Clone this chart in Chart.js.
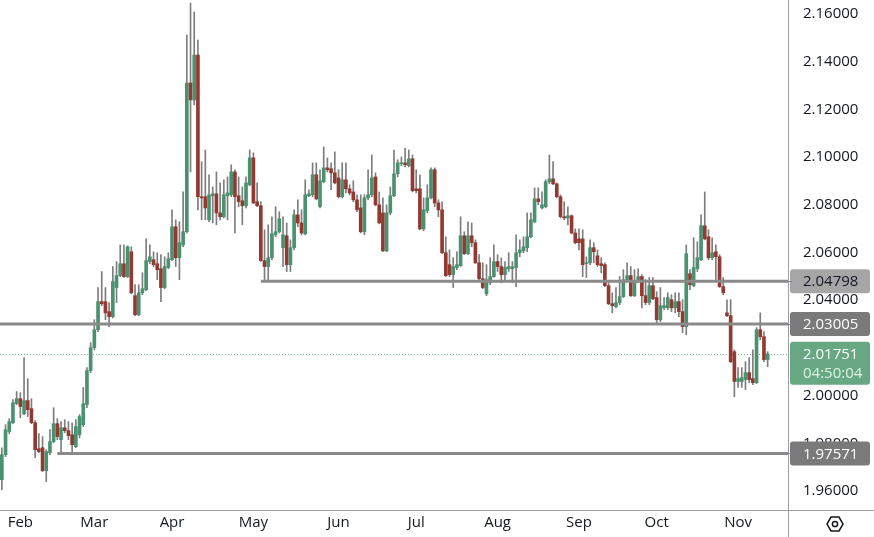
<!DOCTYPE html>
<html>
<head>
<meta charset="utf-8">
<script src="https://cdn.jsdelivr.net/npm/chart.js@4"></script>
<style>
  html, body { margin: 0; padding: 0; background: #fff; }
  canvas { display: block; }
</style>
</head>
<body>
<canvas id="myChart" width="874" height="537"></canvas>
<script>
// daily candles
const opens = [
  1.9647,1.9752,1.9849,1.9886,1.9966,1.9987,1.9924,1.9979,1.9945,1.9886,
  1.9777,1.9781,1.9685,1.9760,1.9807,1.9882,1.9815,1.9865,1.9853,1.9836,
  1.9786,1.9836,1.9878,1.9962,2.0105,2.0201,2.0276,2.0394,2.0394,2.0352,
  2.0331,2.0453,2.0503,2.0553,2.0499,2.0603,2.0419,2.0339,2.0431,2.0444,
  2.0562,2.0570,2.0553,2.0532,2.0453,2.0537,2.0570,2.0708,2.0578,2.0632,
  2.0687,2.1311,2.1240,2.1428,2.0834,2.0834,2.0737,2.0838,2.0846,2.0766,
  2.0750,2.0838,2.0842,2.0938,2.0838,2.0817,2.0796,2.0884,2.0997,2.0813,
  2.0796,2.0566,2.0541,2.0578,2.0674,2.0687,2.0620,2.0670,2.0549,2.0620,
  2.0758,2.0724,2.0678,2.0838,2.0842,2.0926,2.0792,2.0897,2.0955,2.0951,
  2.0934,2.0913,2.0834,2.0905,2.0867,2.0854,2.0821,2.0787,2.0687,2.0829,
  2.0842,2.0917,2.0800,2.0766,2.0607,2.0766,2.0838,2.0930,2.0972,2.0976,
  2.0964,2.0993,2.0867,2.0867,2.0699,2.0775,2.0829,2.0947,2.0808,2.0779,
  2.0599,2.0549,2.0507,2.0537,2.0545,2.0670,2.0595,2.0670,2.0641,2.0557,
  2.0490,2.0427,2.0473,2.0499,2.0562,2.0541,2.0507,2.0532,2.0532,2.0537,
  2.0599,2.0607,2.0620,2.0666,2.0729,2.0825,2.0787,2.0792,2.0897,2.0909,
  2.0888,2.0834,2.0750,2.0745,2.0754,2.0682,2.0657,2.0657,2.0553,2.0557,
  2.0620,2.0586,2.0553,2.0549,2.0461,2.0385,2.0373,2.0390,2.0415,2.0486,
  2.0503,2.0419,2.0478,2.0499,2.0419,2.0390,2.0461,2.0411,2.0318,2.0368,
  2.0368,2.0402,2.0368,2.0394,2.0352,2.0289,2.0511,2.0461,2.0532,2.0570,
  2.0712,2.0666,2.0578,2.0603,2.0582,2.0457,2.0347,2.0335,2.0184,2.0059,
  2.0059,2.0067,2.0096,2.0071,2.0054,2.0276,2.0247,2.0151
];
const highs = [
  1.9781,1.9878,1.9903,1.9983,2.0017,2.0012,2.0159,2.0071,1.9987,1.9895,
  1.9840,1.9828,1.9773,1.9857,1.9949,1.9903,1.9891,1.9899,1.9891,1.9886,
  1.9899,1.9920,2.0034,2.0117,2.0222,2.0318,2.0453,2.0520,2.0453,2.0390,
  2.0541,2.0562,2.0632,2.0632,2.0628,2.0624,2.0465,2.0465,2.0515,2.0657,
  2.0632,2.0603,2.0599,2.0591,2.0582,2.0599,2.0779,2.0737,2.0729,2.0854,
  2.1512,2.1646,2.1609,2.1491,2.0981,2.1030,2.0926,2.0875,2.0938,2.0892,
  2.0905,2.0917,2.0968,2.0947,2.0917,2.0875,2.0917,2.1030,2.1018,2.0892,
  2.0813,2.0695,2.0716,2.0750,2.0792,2.0771,2.0750,2.0724,2.0653,2.0779,
  2.0821,2.0779,2.0905,2.0863,2.0976,2.0976,2.0947,2.1043,2.0997,2.0976,
  2.1022,2.0947,2.0976,2.0976,2.0884,2.0901,2.0842,2.0842,2.0842,2.0947,
  2.1009,2.0934,2.0854,2.0829,2.0800,2.0875,2.1030,2.0989,2.1001,2.1038,
  2.1030,2.1009,2.0947,2.0926,2.0829,2.0884,2.0955,2.0955,2.0821,2.0813,
  2.0666,2.0611,2.0578,2.0603,2.0750,2.0687,2.0729,2.0724,2.0653,2.0591,
  2.0557,2.0549,2.0578,2.0632,2.0591,2.0578,2.0562,2.0599,2.0562,2.0674,
  2.0653,2.0666,2.0766,2.0766,2.0871,2.0871,2.0854,2.0905,2.1009,2.0981,
  2.0892,2.0842,2.0813,2.0792,2.0758,2.0699,2.0699,2.0695,2.0582,2.0653,
  2.0641,2.0611,2.0578,2.0557,2.0473,2.0431,2.0453,2.0499,2.0528,2.0557,
  2.0541,2.0528,2.0532,2.0507,2.0486,2.0495,2.0495,2.0436,2.0453,2.0411,
  2.0431,2.0423,2.0431,2.0431,2.0402,2.0632,2.0528,2.0662,2.0645,2.0758,
  2.0854,2.0695,2.0662,2.0632,2.0591,2.0495,2.0402,2.0402,2.0192,2.0117,
  2.0117,2.0142,2.0159,2.0192,2.0285,2.0347,2.0268,2.0184
];
const lows = [
  1.9605,1.9744,1.9840,1.9882,1.9962,1.9907,1.9920,1.9912,1.9882,1.9739,
  1.9760,1.9681,1.9639,1.9752,1.9802,1.9815,1.9760,1.9844,1.9815,1.9752,
  1.9781,1.9823,1.9870,1.9949,2.0096,2.0192,2.0268,2.0377,2.0318,2.0289,
  2.0326,2.0390,2.0499,2.0495,2.0495,2.0427,2.0335,2.0335,2.0423,2.0440,
  2.0553,2.0541,2.0486,2.0394,2.0448,2.0532,2.0566,2.0541,2.0486,2.0624,
  2.0682,2.0938,2.1219,2.0779,2.0737,2.0737,2.0729,2.0724,2.0716,2.0737,
  2.0745,2.0737,2.0834,2.0682,2.0792,2.0716,2.0787,2.0880,2.0804,2.0792,
  2.0562,2.0486,2.0486,2.0570,2.0666,2.0682,2.0541,2.0520,2.0520,2.0611,
  2.0708,2.0674,2.0674,2.0834,2.0834,2.0821,2.0787,2.0892,2.0938,2.0863,
  2.0888,2.0829,2.0829,2.0850,2.0842,2.0813,2.0771,2.0682,2.0674,2.0821,
  2.0834,2.0796,2.0720,2.0603,2.0603,2.0758,2.0834,2.0917,2.0964,2.0959,
  2.0959,2.0854,2.0850,2.0695,2.0691,2.0766,2.0825,2.0792,2.0750,2.0595,
  2.0499,2.0499,2.0453,2.0528,2.0541,2.0591,2.0591,2.0624,2.0553,2.0486,
  2.0448,2.0419,2.0465,2.0495,2.0520,2.0473,2.0486,2.0520,2.0473,2.0457,
  2.0582,2.0599,2.0603,2.0662,2.0724,2.0800,2.0783,2.0787,2.0888,2.0884,
  2.0829,2.0745,2.0737,2.0716,2.0678,2.0636,2.0611,2.0499,2.0495,2.0549,
  2.0557,2.0541,2.0515,2.0457,2.0381,2.0347,2.0368,2.0381,2.0411,2.0478,
  2.0415,2.0415,2.0473,2.0368,2.0381,2.0381,2.0402,2.0305,2.0310,2.0360,
  2.0360,2.0352,2.0347,2.0331,2.0264,2.0255,2.0444,2.0457,2.0520,2.0566,
  2.0653,2.0570,2.0570,2.0486,2.0453,2.0423,2.0331,2.0138,1.9995,2.0034,
  2.0034,2.0025,2.0054,2.0046,2.0050,2.0234,2.0142,2.0121
];
const closes = [
  1.9752,1.9857,1.9891,1.9970,1.9987,1.9954,1.9979,1.9941,1.9886,1.9773,
  1.9765,1.9685,1.9765,1.9807,1.9882,1.9828,1.9865,1.9853,1.9832,1.9794,
  1.9870,1.9912,1.9966,2.0105,2.0201,2.0276,2.0394,2.0385,2.0347,2.0331,
  2.0478,2.0503,2.0553,2.0499,2.0624,2.0431,2.0339,2.0431,2.0448,2.0566,
  2.0582,2.0549,2.0528,2.0453,2.0541,2.0574,2.0708,2.0578,2.0641,2.0687,
  2.1311,2.1240,2.1428,2.0834,2.0829,2.0787,2.0842,2.0846,2.0766,2.0750,
  2.0842,2.0850,2.0938,2.0834,2.0813,2.0796,2.0892,2.0997,2.0808,2.0796,
  2.0566,2.0541,2.0578,2.0678,2.0687,2.0741,2.0674,2.0549,2.0620,2.0758,
  2.0724,2.0682,2.0842,2.0846,2.0926,2.0825,2.0901,2.0955,2.0947,2.0934,
  2.0892,2.0834,2.0905,2.0867,2.0850,2.0821,2.0779,2.0687,2.0829,2.0842,
  2.0913,2.0800,2.0724,2.0607,2.0766,2.0838,2.0930,2.0976,2.0976,2.0968,
  2.0993,2.0859,2.0859,2.0699,2.0779,2.0829,2.0947,2.0808,2.0779,2.0599,
  2.0503,2.0507,2.0541,2.0549,2.0670,2.0595,2.0670,2.0641,2.0557,2.0490,
  2.0453,2.0486,2.0499,2.0562,2.0541,2.0507,2.0537,2.0541,2.0541,2.0599,
  2.0611,2.0624,2.0666,2.0737,2.0825,2.0813,2.0800,2.0897,2.0909,2.0888,
  2.0834,2.0750,2.0745,2.0754,2.0682,2.0641,2.0641,2.0549,2.0557,2.0620,
  2.0603,2.0549,2.0545,2.0461,2.0385,2.0377,2.0390,2.0415,2.0486,2.0503,
  2.0419,2.0478,2.0499,2.0419,2.0390,2.0461,2.0406,2.0318,2.0377,2.0377,
  2.0411,2.0368,2.0394,2.0352,2.0289,2.0595,2.0465,2.0537,2.0578,2.0712,
  2.0657,2.0578,2.0599,2.0582,2.0457,2.0431,2.0335,2.0142,2.0059,2.0071,
  2.0075,2.0096,2.0067,2.0054,2.0276,2.0247,2.0151,2.0175
];

// x axis: one slot per trading day, a few empty ones on the right
const slots = 213;
const monthNames = ["Feb", "Mar", "Apr", "May", "Jun", "Jul", "Aug", "Sep", "Oct", "Nov"];
const monthStarts = [5, 25, 46, 68, 91, 112, 134, 156, 177, 199];

const yTicks = [1.96, 1.98, 2.00, 2.02, 2.04, 2.06, 2.08, 2.10, 2.12, 2.14, 2.16];

// horizontal levels and where they start (candle index)
const levels = [2.04798, 2.03005, 1.97571];
const levelStarts = [70, 0, 15];
const lastPrice = 2.01751;
const countdown = "04:50:04";

const UP = "#4a9170";
const DOWN = "#923a32";
const FONT = "'Open Sans', sans-serif";
const FSIZE = 15;

const labels = [];
for (let i = 0; i < slots; i++) labels.push(String(i));

const noPad = (s) => {
  s.paddingTop = 0;
  s.paddingBottom = 0;
  s.paddingLeft = 0;
  s.paddingRight = 0;
};

const tvOverlay = {
  id: "tvOverlay",
  beforeDatasetsDraw(chart) {
    const { ctx, chartArea, scales } = chart;
    const y = Math.round(scales.y.getPixelForValue(lastPrice)) + 0.5;
    ctx.save();
    ctx.strokeStyle = "rgba(74,145,112,0.75)";
    ctx.lineWidth = 1;
    ctx.setLineDash([1, 2]);
    ctx.beginPath();
    ctx.moveTo(chartArea.left, y);
    ctx.lineTo(chartArea.right, y);
    ctx.stroke();
    ctx.restore();
  },
  afterDatasetsDraw(chart) {
    const { ctx, chartArea, scales } = chart;
    ctx.save();
    ctx.strokeStyle = "#8a8a8a";
    ctx.lineWidth = 3;
    levels.forEach((v, i) => {
      const y = scales.y.getPixelForValue(v);
      const x0 = levelStarts[i] === 0 ? chartArea.left : scales.x.getPixelForValue(levelStarts[i]);
      ctx.beginPath();
      ctx.moveTo(x0, y);
      ctx.lineTo(chartArea.right, y);
      ctx.stroke();
    });
    ctx.restore();
  },
  afterDraw(chart) {
    const { ctx, chartArea, scales, width, height } = chart;
    const right = chartArea.right;
    ctx.save();
    // pane borders
    ctx.strokeStyle = "#9b9ea6";
    ctx.lineWidth = 1;
    ctx.beginPath();
    ctx.moveTo(right + 0.5, 0);
    ctx.lineTo(right + 0.5, height);
    ctx.moveTo(0, chartArea.bottom + 0.5);
    ctx.lineTo(width, chartArea.bottom + 0.5);
    ctx.stroke();

    ctx.font = FSIZE + "px " + FONT;
    ctx.textBaseline = "middle";
    ctx.textAlign = "left";

    const box = (y, h, fill) => {
      ctx.fillStyle = fill;
      ctx.beginPath();
      ctx.roundRect(right + 2, y, 80, h, 3);
      ctx.fill();
    };

    const boxFill = ["#a6a6a6", "#7a7a7a", "#7a7a7a"];
    const boxText = ["#131722", "#ffffff", "#ffffff"];
    levels.forEach((v, i) => {
      const y = scales.y.getPixelForValue(v);
      box(y - 12, 24, boxFill[i]);
      ctx.fillStyle = boxText[i];
      ctx.fillText(v.toFixed(5), right + 15, y + 1);
      ctx.fillStyle = "#8a8a8a";
      ctx.fillRect(right, Math.round(y), 4, 1);
    });

    const yl = scales.y.getPixelForValue(lastPrice);
    box(yl - 12, 43, "#67a883");
    ctx.fillStyle = "#ffffff";
    ctx.fillText(lastPrice.toFixed(5), right + 15, yl + 1);
    ctx.fillStyle = "#dcf3e5";
    ctx.fillText(countdown, right + 15, yl + 20);

    // settings icon
    const cx = 835, cy = 524, r = 8;
    ctx.strokeStyle = "#131722";
    ctx.lineWidth = 1.5;
    ctx.beginPath();
    for (let k = 0; k < 6; k++) {
      const a = Math.PI / 3 * k;
      const px = cx + r * Math.cos(a), py = cy + r * Math.sin(a);
      if (k === 0) ctx.moveTo(px, py); else ctx.lineTo(px, py);
    }
    ctx.closePath();
    ctx.stroke();
    ctx.beginPath();
    ctx.arc(cx, cy, 2.6, 0, Math.PI * 2);
    ctx.stroke();
    ctx.restore();
  }
};

const ctx = document.getElementById("myChart");

new Chart(ctx, {
  type: "bar",
  data: {
    labels: labels,
    datasets: [
      {
        label: "body",
        data: opens.map((o, i) => [o, closes[i]]),
        backgroundColor: opens.map((o, i) => (closes[i] >= o ? UP : DOWN)),
        borderWidth: 0,
        barThickness: 3,
        minBarLength: 1,
        grouped: false,
        order: 0,
      },
      {
        label: "wick",
        data: lows.map((l, i) => [l, highs[i]]),
        backgroundColor: "#7d7d7d",
        borderWidth: 0,
        barThickness: 1,
        grouped: false,
        order: 1,
      },
    ],
  },
  options: {
    responsive: false,
    animation: false,
    devicePixelRatio: 1,
    layout: { padding: 0 },
    plugins: {
      legend: { display: false },
      tooltip: { enabled: false },
    },
    scales: {
      x: {
        offset: true,
        grid: { display: false, drawTicks: false },
        border: { display: false },
        ticks: {
          autoSkip: false,
          maxRotation: 0,
          minRotation: 0,
          padding: 4,
          color: "#131722",
          font: { family: FONT, size: FSIZE },
          callback: (v, i) => {
            const k = monthStarts.indexOf(i);
            return k >= 0 ? monthNames[k] : null;
          },
        },
        afterFit: (s) => { s.height = 27; noPad(s); },
      },
      y: {
        position: "right",
        min: 1.952,
        max: 2.1659,
        grid: { display: false, drawTicks: false },
        border: { display: false },
        ticks: {
          padding: 15,
          color: "#131722",
          font: { family: FONT, size: FSIZE },
          callback: (v) => Number(v).toFixed(5),
        },
        afterBuildTicks: (s) => { s.ticks = yTicks.map((v) => ({ value: v })); },
        afterFit: (s) => { s.width = 86; noPad(s); },
      },
    },
  },
  plugins: [tvOverlay],
});
</script>
</body>
</html>
